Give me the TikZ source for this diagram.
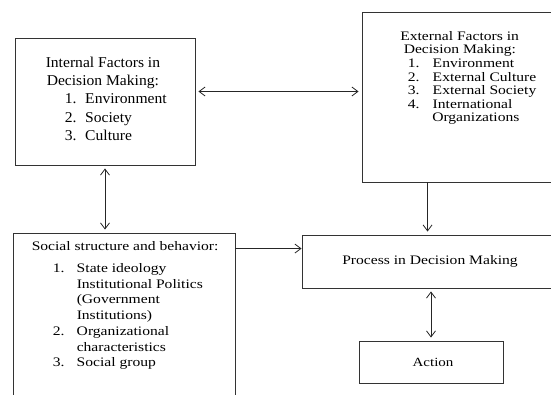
\documentclass[tikz,border=0pt]{standalone}
\usepackage{fontspec}
\newfontfamily\boxfont[FakeStretch=1.2]{Liberation Serif}
\newfontfamily\tallfont[FakeStretch=1.04]{Liberation Serif}
\usetikzlibrary{positioning,arrows.meta}
\tikzset{
  factorBox/.style={rectangle, draw=black!80, line width=0.9pt, inner sep=0pt},
  listText/.style={inner sep=0pt, align=left},
  oneWay/.style={-{Straight Barb[length=6pt,width=9pt]}, draw=black!85, line width=0.8pt},
  twoWay/.style={{Straight Barb[length=6pt,width=9pt]}-{Straight Barb[length=6pt,width=9pt]},
    draw=black!85, line width=0.8pt, shorten <=3pt, shorten >=3pt}
}
\newcommand{\itemline}[4]{\hspace*{#1}\makebox[#2][l]{#3}#4}

\begin{document}
\begin{tikzpicture}[x=1pt, y=-1pt, font=\boxfont\fontsize{13}{13.5}\selectfont]
  \useasboundingbox (0,0) rectangle (551,395);
  \clip (0,0) rectangle (551,395);

  % boxes
  \node [factorBox, minimum width=180pt, minimum height=127pt] (internal) at (105,101.5) {};
  \node [factorBox, minimum width=198pt, minimum height=170pt] (external) at (461,97) {};
  \node [factorBox, minimum width=222pt, minimum height=187pt] (social) at (124,326.5) {};
  \node [factorBox, minimum width=256pt, minimum height=53pt] (process) at (430,261.5)
    {Process in Decision Making};
  \node [factorBox, minimum width=144pt, minimum height=42pt,
    font=\boxfont\fontsize{12.5}{13}\selectfont] (action) at (431,362) {\hspace*{4pt}Action};

  % texts in the boxes
  \node [listText, font=\tallfont\fontsize{15}{18.35}\selectfont,
    below right=19.1pt and 31pt of internal.north west] (internalList)
    {Internal Factors in\\
     \hspace*{1pt}Decision Making:\\
     \itemline{19pt}{20.5pt}{1.}{Environment}\\
     \itemline{19pt}{20.5pt}{2.}{Society}\\
     \itemline{19pt}{20.5pt}{3.}{Culture}};
  \node [listText, font=\boxfont\fontsize{13}{13.6}\selectfont,
    below right=19.6pt and 38.5pt of external.north west] (externalList)
    {External Factors in\\
     \hspace*{3.5pt}Decision Making:\\
     \itemline{7.5pt}{25pt}{1.}{Environment}\\
     \itemline{7.5pt}{25pt}{2.}{External Culture}\\
     \itemline{7.5pt}{25pt}{3.}{External Society}\\
     \itemline{7.5pt}{25pt}{4.}{International}\\
     \hspace*{32pt}Organizations};
  \node [listText, font=\boxfont\fontsize{13}{15.7}\selectfont,
    below right=8.8pt and 19pt of social.north west] (socialList)
    {Social structure and behavior:\\[6.3pt]
     \itemline{21pt}{24pt}{1.}{State ideology}\\
     \hspace*{45pt}Institutional Politics\\
     \hspace*{45pt}(Government\\
     \hspace*{45pt}Institutions)\\
     \itemline{21pt}{24pt}{2.}{Organizational}\\
     \hspace*{45pt}characteristics\\
     \itemline{21pt}{24pt}{3.}{Social group}};

  % connectors
  \draw [twoWay] ([yshift=10pt]internal.east) -- ([yshift=10pt]internal.east -| external.west);
  \draw [twoWay] (internal.south) -- (internal.south |- social.north);
  \draw [oneWay] ([yshift=-16pt]social.north east) -- ([yshift=-16pt]social.north east -| process.west);
  \draw [oneWay, shorten >=3pt] ([xshift=66pt]external.south west)
    -- ([xshift=66pt]external.south west |- process.north);
  \draw [twoWay] (action.north) -- (action.north |- process.south);
\end{tikzpicture}
\end{document}
